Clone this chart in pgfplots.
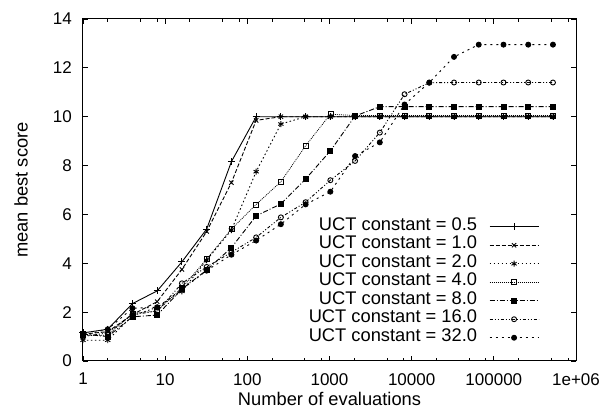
\documentclass[border=0pt]{standalone}
\usepackage{fontspec}
\setmainfont{Liberation Sans}
\usepackage{pgfplots}
\pgfplotsset{compat=1.18}
\pgfplotstableread{
x c05 c1 c2 c4 c8 c16 c32
1 1.15 1.10 0.85 1.05 1.10 1.00 1.05
2 1.30 1.20 0.85 1.05 1.00 1.15 1.30
4 2.35 1.90 1.85 1.95 1.81 1.90 2.16
8 2.87 2.43 2.20 2.05 1.88 2.04 2.20
16 4.06 3.75 2.85 3.00 2.95 3.18 2.93
32 5.40 5.30 4.13 4.17 3.72 3.85 3.70
64 8.16 7.30 5.36 5.40 4.64 4.45 4.35
128 10.00 9.85 7.75 6.41 5.94 5.06 4.93
256 10.00 10.00 9.70 7.34 6.43 5.88 5.60
512 10.00 10.00 10.00 8.81 7.45 6.50 6.41
1024 10.00 10.00 10.00 10.10 8.60 7.40 6.93
2048 10.00 10.00 10.00 10.05 10.03 8.19 8.39
4096 10.00 10.00 10.00 10.05 10.41 9.35 8.95
8192 10.00 10.00 10.00 10.05 10.41 10.92 10.50
16384 10.00 10.00 10.00 10.05 10.41 11.39 11.40
32768 10.00 10.00 10.00 10.05 10.41 11.40 12.45
65536 10.00 10.00 10.00 10.05 10.41 11.40 12.95
131072 10.00 10.00 10.00 10.05 10.41 11.40 12.95
262144 10.00 10.00 10.00 10.05 10.41 11.40 12.95
524288 10.00 10.00 10.00 10.05 10.41 11.40 12.95
}\data
\begin{document}
\fontsize{17}{20}\selectfont
\begin{tikzpicture}
\begin{axis}[
 scale only axis, width=493pt, height=342pt,
 xmode=log, xmin=1, xmax=1e6, ymin=0, ymax=14,
 xtick={1,10,100,1000,10000,100000,1000000},
 xticklabels={1,10,100,1000,10000,100000,1e+06},
 minor xtick={2,5,8,20,50,80,200,500,800,2000,5000,8000,20000,50000,80000,200000,500000,800000},
 ytick={0,2,...,14},
 /pgf/number format/assume math mode=true,
 tick align=inside,
 major tick length=5pt, minor tick length=3pt,
 every tick/.style={black, line width=0.8pt},
 axis line style={line width=1pt},
 yticklabel style={inner sep=0pt, xshift=-11pt},
 xticklabel style={inner sep=0pt, yshift=-12pt},
 ylabel={mean best score}, xlabel={Number of evaluations},
 every axis y label/.style={at={(rel axis cs:0,0.5)}, xshift=-62pt, rotate=90, anchor=center, font=\fontsize{18.3}{22}\selectfont},
 every axis x label/.style={at={(rel axis cs:0.5,0)}, yshift=-38pt, anchor=center, font=\fontsize{18.3}{22}\selectfont},
 legend plot pos=right, legend cell align=right,
 legend style={at={(0.925,0.4196)}, anchor=north east, draw=none, fill=none, inner sep=0pt, outer sep=0pt,
   font=\fontsize{18.3}{22}\selectfont,
   column sep=12pt, nodes={inner sep=0pt, text height=12.8pt, text depth=5.7pt}},
 legend image code/.code={\draw[mark repeat=2,mark phase=2,#1] plot coordinates {(0pt,0pt) (24.5pt,0pt) (49pt,0pt)};},
 every axis plot/.append style={black, line width=0.9pt},
]
\addplot[solid, mark=+, mark size=3.5pt, mark options={solid}] table[x=x,y=c05] {\data};
\addlegendentry{UCT constant = 0.5}
\addplot[dash pattern=on 4pt off 2pt, mark=x, mark size=3pt, mark options={solid}] table[x=x,y=c1] {\data};
\addlegendentry{UCT constant = 1.0}
\addplot[dash pattern=on 1.5pt off 2.5pt, mark=asterisk, mark size=3pt, mark options={solid}] table[x=x,y=c2] {\data};
\addlegendentry{UCT constant = 2.0}
\addplot[dash pattern=on 1pt off 1pt, line width=0.7pt, mark=square, mark size=2.5pt, mark options={solid}] table[x=x,y=c4] {\data};
\addlegendentry{UCT constant = 4.0}
\addplot[dash pattern=on 5pt off 2pt on 1pt off 2pt, mark=square*, mark size=2.5pt, mark options={solid}] table[x=x,y=c8] {\data};
\addlegendentry{UCT constant = 8.0}
\addplot[dash pattern=on 3pt off 2pt on 1pt off 2pt on 1pt off 2pt, mark=o, mark size=2.5pt, mark options={solid}] table[x=x,y=c16] {\data};
\addlegendentry{UCT constant = 16.0}
\addplot[dash pattern=on 2pt off 4pt, mark=*, mark size=2.5pt, mark options={solid}] table[x=x,y=c32] {\data};
\addlegendentry{UCT constant = 32.0}
\coordinate (bl) at (rel axis cs:0,0);
\coordinate (tr) at (rel axis cs:1,1);
\end{axis}
\pgfresetboundingbox
\path ([shift={(-83pt,-58pt)}]bl) rectangle ([shift={(28pt,19pt)}]tr);
\end{tikzpicture}
\end{document}
